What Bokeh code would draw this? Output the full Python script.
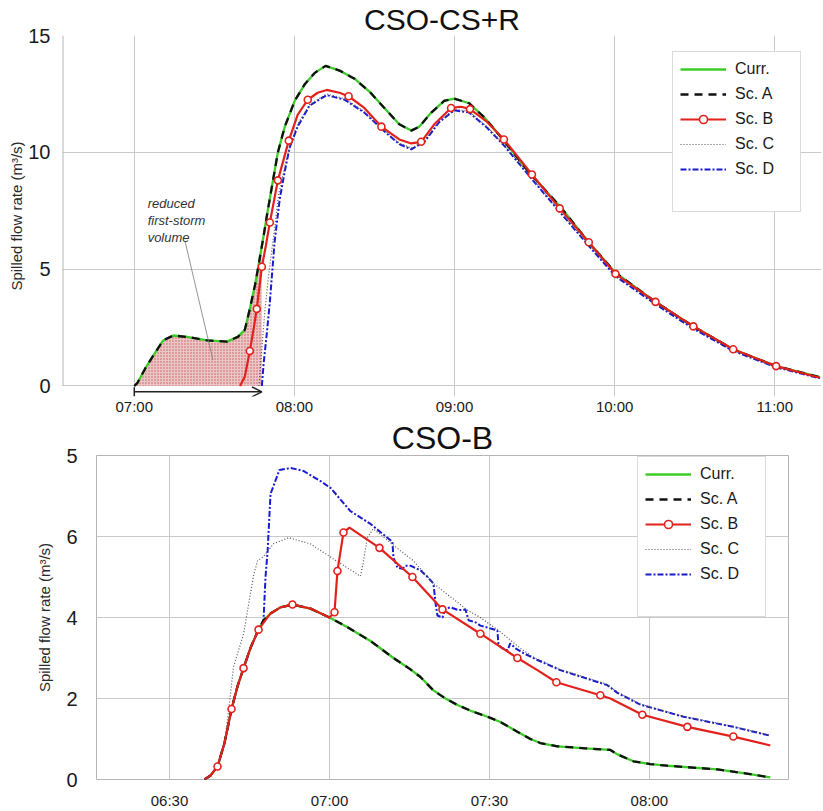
import numpy as np
from bokeh.plotting import figure
from bokeh.layouts import column, row
from bokeh.models import (FixedTicker, Legend, LegendItem, Arrow, TeeHead,
                          OpenHead, Range1d)
from bokeh.core.properties import value
from bokeh.embed import file_html
from bokeh.resources import INLINE

FONT = "Liberation Sans"

def hm(s):
    h, m = s.split(":")
    return int(h) * 60 + int(m)

# ---------------- data: CSO-CS+R (times in minutes after midnight) ----------------
top_ticks = ["07:00", "08:00", "09:00", "10:00", "11:00"]
top_yticks = [0, 5, 10, 15]

top_curr_t = [420.0, 421.1, 424.1, 427.1, 430.8, 434.6, 439.8, 447.3, 454.7, 458.8, 461.4,
              463.3, 465.2, 466.3, 468.2, 470.0, 471.9, 473.8, 476.4, 480.1, 483.8, 487.6,
              491.7, 496.9, 502.5, 508.1, 513.7, 519.3, 523.8, 526.8, 531.3, 536.1, 539.9,
              545.5, 551.1, 557.8, 567.9, 579.8, 590.3, 600.3, 615.3, 629.5, 644.4, 660.5, 676.9]
top_curr_v = [0, 0.12, 0.75, 1.3, 1.95, 2.16, 2.1, 1.95, 1.9, 2.1, 2.4,
              3.3, 4.3, 5.0, 6.25, 7.5, 8.75, 10.0, 11.1, 12.2, 12.9, 13.4,
              13.7, 13.5, 13.15, 12.6, 11.9, 11.2, 10.93, 11.1, 11.7, 12.2, 12.3,
              12.1, 11.5, 10.6, 9.15, 7.65, 6.15, 4.85, 3.6, 2.55, 1.57, 0.85, 0.38]
top_scA_t = top_curr_t
top_scA_v = top_curr_v

top_scB_t = [459.6, 461.4, 463.3, 464.8, 465.9, 467.8, 469.3, 470.8, 473.8, 477.9, 481.2,
             485.0, 488.7, 492.1, 496.9, 500.3, 506.2, 512.6, 519.3, 523.8, 527.5, 532.4,
             538.7, 542.5, 545.8, 552.2, 558.5, 569.0, 579.4, 590.3, 600.3, 615.3, 629.5,
             644.4, 660.5, 676.9]
top_scB_v = [0, 0.4, 1.5, 2.5, 3.3, 5.1, 6.0, 7.0, 8.8, 10.5, 11.6,
             12.25, 12.55, 12.67, 12.55, 12.4, 11.9, 11.1, 10.55, 10.38, 10.45, 11.2,
             11.9, 11.95, 11.85, 11.3, 10.55, 9.05, 7.6, 6.15, 4.8, 3.6, 2.55,
             1.57, 0.85, 0.35]
top_scB_marks = [2, 4, 5, 7, 8, 9, 11, 15, 17, 20, 22, 24, 26, 27, 28, 29, 30, 31, 32, 33, 34]

top_scC_t = [466.7, 467.8, 468.9, 470.4, 472.3, 474.1, 476.4, 478.6, 481.2, 485.7, 492.1,
             498.8, 506.2, 513.7, 519.3, 523.8, 528.7, 534.3, 539.9, 545.5, 552.2, 558.5,
             569.0, 579.4, 590.3, 600.3, 615.3, 629.5, 644.4, 660.5, 676.9]
top_scC_v = [0, 1.6, 3.2, 4.8, 6.5, 8.2, 9.4, 10.35, 11.2, 12.05, 12.5,
             12.3, 11.75, 10.95, 10.4, 10.18, 10.5, 11.35, 11.85, 11.75, 11.1, 10.35,
             8.9, 7.5, 6.05, 4.75, 3.55, 2.5, 1.53, 0.82, 0.34]

top_scD_t = [467.8, 468.5, 469.7, 470.8, 472.6, 474.5, 476.4, 478.2, 481.2, 485.7, 492.1,
             498.8, 506.2, 513.7, 519.3, 523.8, 528.7, 534.3, 539.9, 545.5, 552.2, 558.5,
             569.0, 579.4, 590.3, 600.3, 615.3, 629.5, 644.4, 660.5, 676.9]
top_scD_v = [0, 1.0, 2.3, 3.6, 6.2, 8.0, 9.2, 10.2, 11.1, 12.0, 12.45,
             12.25, 11.7, 10.9, 10.35, 10.13, 10.45, 11.3, 11.8, 11.7, 11.05, 10.3,
             8.85, 7.45, 6.0, 4.7, 3.5, 2.45, 1.5, 0.8, 0.33]

# ---------------- data: CSO-B ----------------
bot_ticks = ["06:30", "07:00", "07:30", "08:00"]
bot_yticks = [0, 2, 4, 6, 8]
bot_ylabels = ["0", "2", "4", "6", "5"]

bot_curr_t = [396.56, 397.69, 399.0, 400.31, 401.63, 402.75, 403.88, 405.19, 406.69, 407.63,
              408.94, 410.81, 413.06, 416.44, 420.0, 423.38, 427.69, 432.0, 435.19, 437.06,
              439.5, 441.75, 444.0, 446.81, 449.63, 452.06, 455.25, 457.69, 459.56, 462.75,
              468.0, 472.69, 474.0, 477.0, 480.19, 483.38, 492.75, 498.0, 502.69]
bot_curr_v = [0, 0.1, 0.32, 0.9, 1.74, 2.3, 2.75, 3.25, 3.7, 3.93,
              4.1, 4.25, 4.32, 4.22, 4.0, 3.76, 3.42, 3.0, 2.72, 2.53,
              2.2, 2.0, 1.84, 1.68, 1.55, 1.42, 1.18, 1.0, 0.9, 0.82,
              0.77, 0.73, 0.62, 0.45, 0.38, 0.34, 0.25, 0.15, 0.05]
bot_scA_t = bot_curr_t
bot_scA_v = bot_curr_v

bot_scB_t = [396.56, 397.69, 399.0, 400.31, 401.63, 402.75, 403.88, 405.19, 406.69, 408.94,
             410.81, 413.06, 416.44, 420.0, 420.94, 421.5, 422.63, 423.75, 429.38, 435.56,
             441.19, 448.31, 455.25, 459.0, 462.56, 470.81, 472.69, 478.69, 487.13, 495.75,
             502.69]
bot_scB_v = [0, 0.1, 0.32, 0.9, 1.74, 2.3, 2.75, 3.25, 3.7, 4.1,
             4.25, 4.32, 4.22, 4.0, 4.13, 5.15, 6.1, 6.22, 5.72, 5.0,
             4.2, 3.6, 3.0, 2.7, 2.4, 2.08, 2.0, 1.6, 1.3, 1.06,
             0.84]
bot_scB_marks = [2, 4, 6, 8, 11, 14, 15, 16, 18, 19, 20, 21, 22, 24, 25, 27, 28, 29]

bot_scC_t = [396.56, 397.69, 399.0, 400.31, 401.1, 402.0, 403.9, 405.7, 406.5, 407.6,
             409.5, 412.3, 416.4, 420.7, 425.8, 426.3, 427.1, 428.2, 433.3, 435.75,
             439.5, 445.9, 448.3, 452.1, 455.8, 458.25, 463.3, 472.1, 474.0, 478.3,
             486.4, 495.75, 502.69]
bot_scC_v = [0, 0.1, 0.32, 0.9, 1.72, 2.78, 3.6, 5.0, 5.4, 5.5,
             5.82, 5.97, 5.82, 5.45, 5.02, 5.33, 5.97, 6.19, 5.65, 5.4,
             4.84, 4.18, 4.0, 3.64, 3.24, 3.02, 2.72, 2.35, 2.16, 1.86,
             1.56, 1.31, 1.09]

bot_scD_t = [396.56, 397.69, 399.0, 400.31, 401.63, 402.75, 403.88, 405.19, 406.69, 407.63,
             408.0, 408.4, 408.94, 410.6, 412.7, 415.1, 418.3, 420.2, 423.9, 427.7,
             431.8, 432.0, 432.75, 433.7, 434.25, 435.2, 437.1, 438.4, 439.5, 439.9,
             440.25, 441.2, 441.75, 442.7, 444.2, 445.5, 446.1, 447.4, 448.3, 450.2,
             451.5, 451.7, 452.4, 453.4, 453.9, 454.9, 456.4, 459.0, 463.3, 472.1,
             474.0, 478.3, 486.4, 495.75, 502.69]
bot_scD_v = [0, 0.1, 0.32, 0.9, 1.74, 2.3, 2.75, 3.25, 3.7, 3.93,
             5.0, 5.65, 7.05, 7.64, 7.69, 7.62, 7.37, 7.2, 6.63, 6.31,
             5.87, 5.48, 5.23, 5.2, 5.28, 5.28, 5.16, 5.0, 4.84, 4.35,
             4.05, 4.0, 4.22, 4.25, 4.18, 4.2, 3.93, 3.88, 3.8, 3.73,
             3.68, 3.32, 3.24, 3.19, 3.36, 3.24, 3.12, 2.95, 2.7, 2.33,
             2.14, 1.85, 1.55, 1.3, 1.08]

series_names = ["Curr.", "Sc. A", "Sc. B", "Sc. C", "Sc. D"]

# ---------------- styles ----------------
GREEN = "#3ccc28"
BLACK = "#111111"
RED = "#e3211c"
GRAY = "#555555"
BLUE = "#1a1ad0"
FRAME = "#b5b5b5"


def base_figure(width, height, xr, yr, xticks, yticks, ylabels, title, title_size,
                borders, ylab_standoff, ylab_axis_standoff, xlab_standoff):
    p = figure(width=width, height=height, x_range=Range1d(*xr), y_range=Range1d(*yr),
               output_backend="svg", toolbar_location=None,
               min_border_left=borders[0], min_border_right=borders[1],
               min_border_top=borders[2], min_border_bottom=borders[3])
    if "frame_align" in p.properties():
        p.frame_align = False
    p.title.text = title
    p.title.align = "center"
    p.title.text_font = FONT
    p.title.text_font_size = title_size
    p.title.text_font_style = "normal"
    p.title.text_color = "#111111"
    p.title.standoff = 0
    p.title.offset = 0
    p.outline_line_color = FRAME
    p.outline_line_width = 1
    xt = [hm(s) for s in xticks]
    p.xaxis.ticker = FixedTicker(ticks=xt)
    p.xaxis.major_label_overrides = {t: s for t, s in zip(xt, xticks)}
    p.yaxis.ticker = FixedTicker(ticks=yticks)
    p.yaxis.major_label_overrides = {t: s for t, s in zip(yticks, ylabels)}
    for ax in (p.xaxis, p.yaxis):
        ax.axis_line_color = None
        ax.major_tick_line_color = None
        ax.minor_tick_line_color = None
        ax.major_tick_out = 0
        ax.major_tick_in = 0
        ax.minor_tick_out = 0
        ax.major_label_text_font = FONT
        ax.major_label_text_color = "#1a1a1a"
    p.xaxis.major_label_text_font_size = "15px"
    p.xaxis.major_label_standoff = xlab_standoff
    p.yaxis.major_label_text_font_size = "20px"
    p.yaxis.major_label_standoff = ylab_standoff
    p.yaxis.axis_label = "Spilled flow rate (m³/s)"
    p.yaxis.axis_label_text_font = FONT
    p.yaxis.axis_label_text_font_size = "15px"
    p.yaxis.axis_label_text_font_style = "normal"
    p.yaxis.axis_label_text_color = "#2a2a2a"
    p.yaxis.axis_label_standoff = ylab_axis_standoff
    p.grid.grid_line_color = "#c9c9c9"
    p.grid.grid_line_width = 1
    p.xgrid.ticker = FixedTicker(ticks=xt)
    p.ygrid.ticker = FixedTicker(ticks=yticks)
    p.background_fill_color = "white"
    p.border_fill_color = "white"
    return p


def draw_series(p, curr, scA, scB, marks, scC, scD, legend_loc):
    r_curr = p.line(curr[0], curr[1], line_color=GREEN, line_width=2.3)
    r_d = p.line(scD[0], scD[1], line_color=BLUE, line_width=2, line_dash="6 2 2 2")
    r_c = p.line(scC[0], scC[1], line_color=GRAY, line_width=1.2, line_dash="1 2")
    r_a = p.line(scA[0], scA[1], line_color=BLACK, line_width=2.3, line_dash="8 6")
    r_b = p.line(scB[0], scB[1], line_color=RED, line_width=2.2)
    mx = [scB[0][i] for i in marks]
    my = [scB[1][i] for i in marks]
    r_bm = p.scatter(mx, my, marker="circle", size=7, line_color=RED, line_width=1.6,
                     fill_color="white")
    r_blank = p.line([], [], line_alpha=0)
    items = [LegendItem(label=series_names[0], renderers=[r_curr]),
             LegendItem(label=series_names[1], renderers=[r_a]),
             LegendItem(label=series_names[2], renderers=[r_b, r_bm]),
             LegendItem(label=series_names[3], renderers=[r_c]),
             LegendItem(label=series_names[4], renderers=[r_d]),
             LegendItem(label=" ", renderers=[r_blank])]
    leg = Legend(items=items, location=legend_loc, border_line_color="#b8b8b8",
                 border_line_width=1, background_fill_color="white", background_fill_alpha=1,
                 label_text_font=FONT, label_text_font_size="16px", label_text_color="#1a1a1a",
                 glyph_width=46, glyph_height=20, label_height=20, label_width=58,
                 label_standoff=9, padding=7, spacing=5, margin=0)
    p.add_layout(leg)


# ---------------- top figure ----------------
top_xr = (393.1, 677.5)
top_yr = (-0.45, 15)
p1 = base_figure(823, 417, top_xr, top_yr, top_ticks, top_yticks,
                 [str(v) for v in top_yticks], "CSO-CS+R", "30px",
                 (62, 2, 34, 18), 12, 0, 1)
# the frame of the top panel is drawn from 0 up (the strip below 0 holds the arrow)
p1.outline_line_color = None
p1.segment(x0=[top_xr[0]], y0=[0], x1=[top_xr[0]], y1=[top_yr[1]],
           line_color=FRAME, line_width=2)

# shaded "reduced first-storm volume": area under Curr. until Sc. D starts spilling
t_end = top_scD_t[0]
fx = [t for t in top_curr_t if t < t_end]
fy = [v for t, v in zip(top_curr_t, top_curr_v) if t < t_end]
fx = fx + [t_end, t_end]
fy = fy + [float(np.interp(t_end, top_curr_t, top_curr_v)), 0.0]
p1.patch(fx, fy, fill_color="#ecc6c6", line_color=None, hatch_pattern="dot",
         hatch_color="#b83030", hatch_scale=3, hatch_weight=1, hatch_alpha=0.7)

draw_series(p1, (top_curr_t, top_curr_v), (top_scA_t, top_scA_v),
            (top_scB_t, top_scB_v), top_scB_marks, (top_scC_t, top_scC_v),
            (top_scD_t, top_scD_v), (610, 184))

# annotation
p1.line([439.0, 449.5], [6.2, 1.1], line_color="#777777", line_width=0.8)
p1.text([425.0], [8.15], text=["reduced\nfirst-storm\nvolume"], text_font=value(FONT),
        text_font_style="italic", text_font_size="13px", text_color="#333333",
        text_baseline="top", text_align="left", text_line_height=1.15)
p1.add_layout(Arrow(start=TeeHead(size=9, line_width=1.5, line_color="#222222"),
                    end=OpenHead(size=10, line_width=1.5, line_color="#222222"),
                    x_start=top_curr_t[0], y_start=-0.25, x_end=t_end, y_end=-0.25,
                    line_width=1.5, line_color="#222222"))

# ---------------- bottom figure ----------------
p2 = base_figure(823, 394, (376.3, 506.1), (0, 8), bot_ticks, bot_yticks, bot_ylabels,
                 "CSO-B", "32px", (96, 35, 38, 31), 19, 10, 12)
draw_series(p2, (bot_curr_t, bot_curr_v), (bot_scA_t, bot_scA_v),
            (bot_scB_t, bot_scB_v), bot_scB_marks, (bot_scC_t, bot_scC_v),
            (bot_scD_t, bot_scD_v), (541, 162))

layout = column(row(p1), row(p2), spacing=0)
open("out.html", "w").write(file_html(layout, INLINE))
